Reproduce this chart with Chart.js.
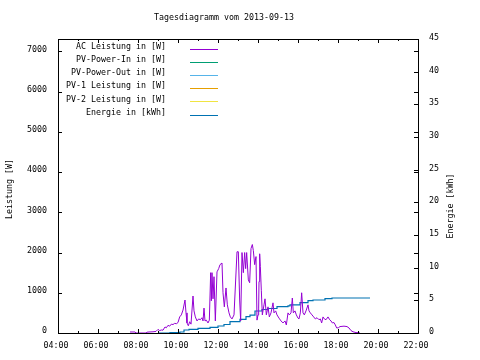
<!DOCTYPE html>
<html><head><meta charset="utf-8">
<script src="https://cdn.jsdelivr.net/npm/chart.js@4/dist/chart.umd.min.js"></script>
<style>html,body{margin:0;padding:0;background:#fff}#wrap{width:480px;height:360px}</style>
</head><body><div id="wrap"><canvas id="c" width="480" height="360"></canvas></div>
<script>
const titleText = "Tagesdiagramm vom 2013-09-13";
const yTitle = "Leistung [W]";
const y2Title = "Energie [kWh]";
const seriesNames = ["AC Leistung in [W]","PV-Power-In in [W]","PV-Power-Out in [W]","PV-1 Leistung in [W]","PV-2 Leistung in [W]","Energie in [kWh]"];
const seriesColors = ["#9400d3","#009e73","#56b4e9","#e69f00","#f0e442","#0072b2"];

const acTimes = ["07:36","07:51","07:54","08:24","08:27","08:33","08:45","08:54","09:00","09:05","09:10","09:15","09:21","09:25","09:30","09:35","09:40","09:45","09:50","09:55","10:00","10:05","10:10","10:15","10:21","10:24","10:27","10:31","10:35","10:39","10:45","10:48","10:52","10:57","11:02","11:07","11:12","11:15","11:18","11:21","11:25","11:30","11:34","11:38","11:40","11:42","11:45","11:48","11:52","11:57","12:02","12:06","12:12","12:15","12:19","12:24","12:28","12:33","12:37","12:42","12:48","12:57","13:01","13:05","13:08","13:12","13:16","13:20","13:23","13:26","13:31","13:35","13:39","13:43","13:46","13:50","13:54","13:57","14:00","14:02","14:03","14:05","14:07","14:10","14:13","14:18","14:21","14:25","14:30","14:34","14:39","14:45","14:48","14:53","14:57","15:03","15:09","15:15","15:21","15:25","15:30","15:34","15:39","15:43","15:46","15:51","15:55","16:00","16:03","16:07","16:11","16:15","16:19","16:24","16:30","16:33","16:37","16:42","16:47","16:52","16:57","17:03","17:07","17:11","17:15","17:19","17:24","17:30","17:35","17:39","17:43","17:48","17:52","17:56","18:01","18:06","18:18","18:27","18:33","18:39","18:45","18:54","19:00","19:06"];
const acWatts = [25,25,0,0,20,25,30,40,90,60,75,70,150,130,190,170,220,210,240,230,260,400,450,570,820,500,250,180,280,220,920,550,400,300,350,330,380,300,620,300,320,250,320,1500,800,1500,850,1400,300,1520,1600,1700,1740,1000,650,1120,700,500,400,350,450,2020,2020,820,300,2000,1500,2000,1600,2000,1320,1250,2100,2200,2050,1700,1900,320,450,620,1280,1970,1650,1050,450,700,850,450,650,400,500,750,500,550,450,370,300,250,300,200,500,450,500,870,500,550,450,370,350,500,1000,500,450,550,700,550,500,450,400,350,380,330,350,250,400,350,330,400,330,300,250,260,200,125,130,160,170,160,125,60,30,10,10,0];

const eTimes = ["09:00","09:36","10:06","10:18","10:33","11:00","11:36","12:00","12:18","12:36","13:06","13:24","13:36","13:51","14:12","14:30","14:57","15:30","15:36","16:06","16:30","16:45","17:21","17:42","19:36"];
const eKWh = [0,0.05,0.15,0.46,0.57,0.72,0.85,1.07,1.3,1.73,2.1,2.5,2.75,3.37,3.6,3.75,4.03,4.15,4.29,4.64,4.95,5.05,5.25,5.36,5.36];

const pvInW = [], pvOutW = [], pv1W = [], pv2W = [];

const xMinH = 4, xMaxH = 22, xStepH = 2;
const yMax = 7310;
const yTicks = [0,1000,2000,3000,4000,5000,6000,7000];
const y2Max = 45;
const y2Ticks = [0,5,10,15,20,25,30,35,40,45];

const toH = s => { const p = s.split(':').map(Number); return p[0] + p[1]/60; };
const pts = (ts, vs) => ts.map((t,i) => ({x: toH(t), y: vs[i]}));
const pad2 = n => (n < 10 ? '0' : '') + n;
const FONT = "'DejaVu Sans Mono', 'Liberation Mono', monospace";
const FS = 8.3;

const deco = {
  id: 'deco',
  afterDraw(chart) {
    const {ctx, chartArea: a, scales} = chart;
    const x = scales.x, y = scales.y, y2 = scales.y2;
    ctx.save();
    ctx.strokeStyle = '#000'; ctx.lineWidth = 1;
    ctx.beginPath();
    for (let h = x.min; h <= x.max; h++) {
      const px = Math.round(x.getPixelForValue(h)) + 0.5;
      const L = (h % xStepH === 0) ? 4 : 2;
      ctx.moveTo(px, a.bottom); ctx.lineTo(px, a.bottom - L);
      ctx.moveTo(px, a.top); ctx.lineTo(px, a.top + L);
    }
    y.ticks.forEach(t => {
      const py = Math.round(y.getPixelForValue(t.value)) + 0.5;
      ctx.moveTo(a.left, py); ctx.lineTo(a.left + 4, py);
      ctx.moveTo(a.right, py); ctx.lineTo(a.right - 4, py);
    });
    y2.ticks.forEach(t => {
      const py = Math.round(y2.getPixelForValue(t.value)) + 0.5;
      ctx.moveTo(a.right, py); ctx.lineTo(a.right - 4, py);
    });
    ctx.stroke();
    ctx.strokeRect(a.left + 0.5, a.top + 0.5, a.right - a.left, a.bottom - a.top);

    ctx.fillStyle = '#000';
    ctx.font = FS + 'px ' + FONT;
    ctx.textAlign = 'center'; ctx.textBaseline = 'middle';
    ctx.fillText(titleText, 224, 18);
    ctx.save(); ctx.translate(10, 189); ctx.rotate(-Math.PI/2); ctx.fillText(yTitle, 0, 0); ctx.restore();
    ctx.save(); ctx.translate(451, 206); ctx.rotate(-Math.PI/2); ctx.fillText(y2Title, 0, 0); ctx.restore();

    ctx.textAlign = 'right';
    chart.data.datasets.forEach((ds, i) => {
      const ry = 47 + i * 13.1;
      ctx.fillStyle = '#000';
      ctx.fillText(ds.label, 166, ry);
      ctx.strokeStyle = ds.borderColor; ctx.lineWidth = 1;
      ctx.beginPath();
      ctx.moveTo(190, Math.round(ry + 2) + 0.5); ctx.lineTo(218, Math.round(ry + 2) + 0.5);
      ctx.stroke();
    });
    ctx.restore();
  }
};

const tickFont = {family: FONT, size: FS};
new Chart(document.getElementById('c'), {
  type: 'line',
  data: {
    datasets: [
      {label: seriesNames[0], data: pts(acTimes, acWatts), borderColor: seriesColors[0], borderWidth: 1, yAxisID: 'y'},
      {label: seriesNames[1], data: pvInW, borderColor: seriesColors[1], borderWidth: 1, yAxisID: 'y'},
      {label: seriesNames[2], data: pvOutW, borderColor: seriesColors[2], borderWidth: 1, yAxisID: 'y'},
      {label: seriesNames[3], data: pv1W, borderColor: seriesColors[3], borderWidth: 1, yAxisID: 'y'},
      {label: seriesNames[4], data: pv2W, borderColor: seriesColors[4], borderWidth: 1, yAxisID: 'y'},
      {label: seriesNames[5], data: pts(eTimes, eKWh), borderColor: seriesColors[5], borderWidth: 1.2, stepped: true, yAxisID: 'y2'}
    ]
  },
  options: {
    responsive: false, animation: false, devicePixelRatio: 1,
    elements: {point: {radius: 0}, line: {tension: 0, fill: false}},
    layout: {padding: {top: 39, left: 0, right: 0, bottom: 0}},
    plugins: {legend: {display: false}, title: {display: false}, tooltip: {enabled: false}},
    scales: {
      x: {type: 'linear', position: 'bottom', min: xMinH, max: xMaxH,
        grid: {display: false, drawTicks: false}, border: {display: false},
        ticks: {stepSize: xStepH, color: '#000', font: tickFont, padding: 8, maxRotation: 0, autoSkip: false, labelOffset: -2,
          callback: v => pad2(v) + ':00'},
        afterFit: s => { s.height = 27; }},
      y: {type: 'linear', position: 'left', min: 0, max: yMax,
        grid: {display: false, drawTicks: false}, border: {display: false},
        ticks: {color: '#000', font: tickFont, padding: 11, labelOffset: -2, autoSkip: false, callback: v => String(v)},
        afterBuildTicks: s => { s.ticks = yTicks.map(v => ({value: v})); },
        afterFit: s => { s.width = 58; }},
      y2: {type: 'linear', position: 'right', min: 0, max: y2Max,
        grid: {display: false, drawTicks: false}, border: {display: false},
        ticks: {color: '#000', font: tickFont, padding: 11, labelOffset: -1, autoSkip: false, callback: v => String(v)},
        afterBuildTicks: s => { s.ticks = y2Ticks.map(v => ({value: v})); },
        afterFit: s => { s.width = 62; }}
    }
  },
  plugins: [deco]
});
</script></body></html>
